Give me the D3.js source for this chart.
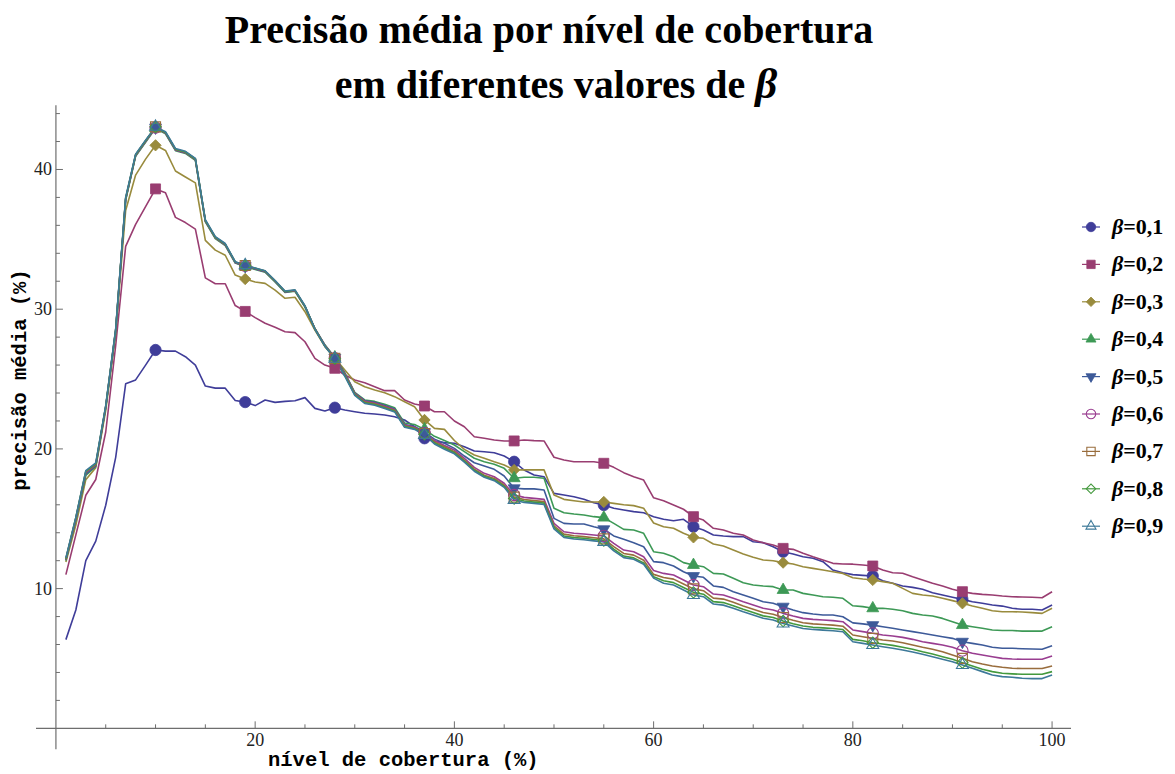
<!DOCTYPE html>
<html>
<head>
<meta charset="utf-8">
<script src="https://cdn.jsdelivr.net/npm/d3@7"></script>
<style>
  body { margin: 0; background: #fff; }
  svg { display: block; }
  .title { font-family: "Liberation Serif", "Times New Roman", serif; font-weight: bold; font-size: 40px; fill: #000; }
  .tick-label { font-family: "Liberation Serif", "Times New Roman", serif; font-size: 18px; fill: #222; }
  .axis-label { font-family: "Liberation Mono", "Courier New", monospace; font-weight: bold; font-size: 20.5px; fill: #000; }
  .legend-text { font-family: "Liberation Serif", "Times New Roman", serif; font-weight: bold; font-size: 22px; fill: #000; }
</style>
</head>
<body>
<div class="vis"></div>
<script>
// nível de cobertura (%) : one point per integer level
var coverage = d3.range(1, 101);

var betaLabels = ["0,1", "0,2", "0,3", "0,4", "0,5", "0,6", "0,7", "0,8", "0,9"];

var precisao01 = [6.35, 8.47, 12.0, 13.4, 15.97, 19.4, 24.66, 24.94, 26.0, 27.08,
  27.0, 27.0, 26.6, 26.0, 24.5, 24.35, 24.35, 23.47, 23.35, 23.1,
  23.5, 23.33, 23.4, 23.45, 23.67, 22.9, 22.71, 22.95, 22.78, 22.66,
  22.55, 22.5, 22.43, 22.3, 22.07, 21.59, 20.76, 20.55, 20.45, 20.4,
  20.16, 19.85, 19.8, 19.73, 19.49, 19.08, 18.49, 18.13, 18.01, 16.82,
  16.7, 16.58, 16.39, 16.15, 15.98, 15.75, 15.63, 15.51, 15.43, 15.15,
  14.96, 14.86, 14.96, 14.43, 14.2, 13.84, 13.77, 13.72, 13.72, 13.36,
  13.29, 13.0, 12.64, 12.48, 12.28, 12.17, 11.93, 11.33, 11.14, 11.0,
  10.95, 10.9, 10.57, 10.38, 10.19, 10.09, 9.95, 9.71, 9.54, 9.38,
  9.23, 9.06, 8.95, 8.83, 8.75, 8.59, 8.52, 8.52, 8.47, 8.83];

var precisao02 = [11.0, 13.85, 16.68, 17.81, 21.21, 27.4, 34.5, 36.07, 37.34, 38.61,
  38.33, 36.57, 36.2, 35.73, 32.24, 31.82, 31.82, 30.26, 29.84, 29.4,
  28.99, 28.7, 28.39, 28.32, 27.67, 26.48, 26.0, 25.77, 25.29, 24.93,
  24.74, 24.45, 24.17, 24.17, 23.5, 23.21, 23.07, 22.66, 22.66, 22.0,
  21.59, 20.87, 20.76, 20.64, 20.57, 20.57, 20.64, 20.59, 20.57, 19.4,
  19.2, 19.08, 19.08, 19.08, 18.97, 18.68, 18.3, 18.01, 17.77, 16.5,
  16.29, 15.98, 15.68, 15.15, 14.91, 14.32, 14.2, 13.96, 13.84, 13.48,
  13.29, 13.12, 12.88, 12.81, 12.53, 12.28, 12.05, 11.81, 11.76, 11.75,
  11.69, 11.62, 11.33, 11.14, 11.1, 10.85, 10.62, 10.38, 10.19, 9.95,
  9.78, 9.66, 9.59, 9.54, 9.47, 9.42, 9.4, 9.38, 9.35, 9.78];

var precisao03 = [11.9, 14.55, 17.8, 18.66, 22.76, 28.3, 37.06, 39.6, 40.74, 41.73,
  41.36, 39.89, 39.46, 39.04, 34.93, 34.23, 33.86, 32.44, 32.16, 31.95,
  31.85, 31.37, 30.78, 30.85, 29.82, 28.51, 27.32, 26.5, 25.65, 24.81,
  24.45, 24.22, 24.02, 23.74, 23.38, 23.02, 22.07, 21.47, 21.4, 20.6,
  19.97, 19.56, 19.33, 19.08, 18.85, 18.49, 18.5, 18.5, 18.5, 16.7,
  16.39, 16.29, 16.2, 16.2, 16.2, 16.1, 16.0, 15.94, 15.75, 14.7,
  14.43, 14.32, 13.96, 13.67, 13.6, 13.19, 13.05, 12.76, 12.48, 12.24,
  12.05, 12.0, 11.86, 11.76, 11.57, 11.45, 11.33, 11.21, 11.09, 10.78,
  10.69, 10.62, 10.5, 10.38, 10.02, 9.66, 9.54, 9.47, 9.31, 9.14,
  8.95, 8.75, 8.59, 8.42, 8.35, 8.35, 8.33, 8.28, 8.23, 8.59];

var precisao04 = [12.0, 14.9, 18.1, 18.75, 22.95, 28.4, 37.8, 40.95, 41.95, 42.95,
  42.55, 41.35, 41.15, 40.65, 36.25, 35.05, 34.55, 33.3, 33.05, 32.85,
  32.65, 31.95, 31.2, 31.28, 30.15, 28.6, 27.45, 26.55, 25.45, 24.05,
  23.5, 23.4, 23.2, 22.95, 21.85, 21.75, 21.4, 20.9, 20.6, 20.28,
  19.8, 19.33, 19.08, 18.9, 18.61, 17.9, 17.97, 17.97, 17.9, 15.75,
  15.43, 15.34, 15.27, 15.15, 15.08, 14.67, 14.24, 14.2, 13.96, 12.64,
  12.53, 12.28, 11.86, 11.69, 11.57, 11.09, 11.05, 10.74, 10.42, 10.26,
  10.19, 10.14, 9.9, 9.9, 9.66, 9.54, 9.42, 9.38, 9.31, 8.77,
  8.71, 8.59, 8.59, 8.52, 8.42, 8.23, 8.11, 8.04, 7.87, 7.63,
  7.39, 7.27, 7.16, 7.04, 7.0, 7.0, 6.96, 6.96, 6.96, 7.27];

var precisao05 = [12.05, 14.95, 18.2, 18.8, 23.0, 28.45, 37.85, 41.0, 42.0, 43.0,
  42.6, 41.4, 41.2, 40.7, 36.3, 35.1, 34.6, 33.33, 33.08, 32.88,
  32.68, 31.98, 31.23, 31.3, 30.18, 28.6, 27.42, 26.52, 25.4, 24.0,
  23.45, 23.33, 23.1, 22.85, 21.75, 21.6, 21.2, 20.7, 20.4, 20.04,
  19.49, 19.01, 18.78, 18.54, 18.06, 17.18, 17.14, 17.14, 17.06, 15.03,
  14.67, 14.63, 14.63, 14.43, 14.25, 13.77, 13.53, 13.29, 13.0, 11.93,
  11.86, 11.62, 11.21, 10.9, 10.81, 10.19, 10.09, 9.78, 9.54, 9.31,
  9.06, 8.95, 8.71, 8.47, 8.28, 8.18, 8.11, 8.11, 7.99, 7.55,
  7.48, 7.39, 7.27, 7.16, 7.04, 6.92, 6.8, 6.68, 6.56, 6.44,
  6.2, 6.08, 5.96, 5.8, 5.73, 5.73, 5.7, 5.68, 5.66, 5.91];

var precisao06 = [12.1, 15.0, 18.3, 18.85, 23.0, 28.5, 37.9, 41.0, 42.0, 43.0,
  42.6, 41.4, 41.2, 40.7, 36.3, 35.1, 34.6, 33.35, 33.1, 32.9,
  32.7, 32.0, 31.25, 31.33, 30.2, 28.6, 27.4, 26.5, 25.35, 23.98,
  23.4, 23.28, 23.05, 22.8, 21.7, 21.55, 21.15, 20.6, 20.25, 19.92,
  19.33, 18.68, 18.25, 18.01, 17.54, 16.7, 16.53, 16.46, 16.39, 14.67,
  14.07, 13.96, 13.91, 13.84, 13.77, 13.24, 12.76, 12.64, 12.28, 11.3,
  11.09, 10.97, 10.62, 10.26, 10.14, 9.61, 9.54, 9.31, 9.06, 8.83,
  8.59, 8.47, 8.23, 8.04, 7.87, 7.8, 7.75, 7.71, 7.63, 7.04,
  6.92, 6.8, 6.68, 6.61, 6.51, 6.37, 6.2, 6.08, 5.96, 5.8,
  5.56, 5.37, 5.25, 5.13, 5.01, 4.96, 4.94, 4.94, 4.94, 5.18];

var precisao07 = [12.1, 15.05, 18.35, 18.9, 23.05, 28.5, 37.9, 41.05, 42.05, 43.05,
  42.65, 41.45, 41.25, 40.75, 36.35, 35.15, 34.65, 33.38, 33.13, 32.93,
  32.73, 32.03, 31.27, 31.35, 30.22, 28.6, 27.38, 26.48, 25.3, 23.93,
  23.35, 23.23, 23.0, 22.75, 21.65, 21.5, 21.1, 20.5, 20.15, 19.8,
  19.2, 18.55, 18.12, 17.88, 17.4, 16.55, 16.38, 16.3, 16.23, 14.5,
  13.9, 13.78, 13.72, 13.64, 13.56, 13.0, 12.52, 12.4, 12.03, 11.02,
  10.8, 10.68, 10.33, 9.98, 9.85, 9.32, 9.25, 9.02, 8.76, 8.53,
  8.29, 8.17, 7.93, 7.73, 7.56, 7.48, 7.43, 7.39, 7.31, 6.68,
  6.56, 6.44, 6.32, 6.25, 6.13, 5.96, 5.8, 5.66, 5.48, 5.25,
  5.01, 4.77, 4.6, 4.46, 4.37, 4.3, 4.28, 4.28, 4.28, 4.46];

var precisao08 = [12.15, 15.1, 18.4, 18.95, 23.05, 28.55, 37.95, 41.05, 42.05, 43.05,
  42.65, 41.45, 41.25, 40.75, 36.35, 35.15, 34.65, 33.38, 33.13, 32.93,
  32.73, 32.03, 31.27, 31.35, 30.22, 28.58, 27.36, 26.46, 25.25, 23.88,
  23.3, 23.18, 22.95, 22.7, 21.6, 21.45, 21.05, 20.42, 20.06, 19.72,
  19.12, 18.47, 18.04, 17.8, 17.32, 16.45, 16.27, 16.19, 16.12, 14.38,
  13.77, 13.65, 13.6, 13.52, 13.44, 12.82, 12.33, 12.2, 11.84, 10.85,
  10.56, 10.43, 10.08, 9.73, 9.6, 9.07, 9.0, 8.77, 8.52, 8.29,
  8.05, 7.93, 7.68, 7.49, 7.32, 7.24, 7.19, 7.15, 7.07, 6.37,
  6.27, 6.13, 6.04, 5.94, 5.8, 5.66, 5.48, 5.32, 5.13, 4.94,
  4.7, 4.46, 4.23, 4.06, 3.94, 3.9, 3.87, 3.87, 3.87, 4.06];

var precisao09 = [12.2, 15.1, 18.45, 19.0, 23.1, 28.6, 38.0, 41.1, 42.1, 43.05,
  42.7, 41.5, 41.3, 40.8, 36.4, 35.2, 34.7, 33.4, 33.15, 32.95,
  32.75, 32.05, 31.3, 31.38, 30.25, 28.58, 27.35, 26.45, 25.2, 23.83,
  23.25, 23.13, 22.9, 22.65, 21.55, 21.4, 21.0, 20.35, 19.98, 19.65,
  19.05, 18.4, 17.97, 17.73, 17.25, 16.35, 16.17, 16.1, 16.02, 14.28,
  13.67, 13.55, 13.5, 13.42, 13.34, 12.7, 12.22, 12.1, 11.74, 10.75,
  10.38, 10.26, 9.9, 9.54, 9.42, 8.9, 8.82, 8.6, 8.34, 8.11,
  7.88, 7.75, 7.5, 7.32, 7.15, 7.08, 7.03, 6.99, 6.91, 6.2,
  6.08, 5.96, 5.84, 5.73, 5.61, 5.46, 5.3, 5.13, 4.94, 4.77,
  4.53, 4.3, 4.06, 3.82, 3.7, 3.66, 3.58, 3.56, 3.56, 3.82];

var xTickValues = [20, 40, 60, 80, 100];
var yTickValues = [10, 20, 30, 40];

var chart = {

  hold: {},
  elements: {},

  setUp: function(){
    chart.hold.width = 1175;
    chart.hold.height = 774;
    chart.hold.series = [precisao01, precisao02, precisao03, precisao04, precisao05,
      precisao06, precisao07, precisao08, precisao09];
    chart.hold.colors = ["#3f3d99", "#993d71", "#998b3d", "#3d9956", "#3d5a99",
      "#993d90", "#996d3d", "#43993d", "#3d7999"];
    chart.hold.shapes = ["circle", "square", "diamond", "up", "down",
      "circle", "square", "diamond", "up"];
    chart.hold.filled = [true, true, true, true, true, false, false, false, false];

    chart.hold.x = d3.scaleLinear().domain([-2, 101.9]).range([36, 1071]);
    chart.hold.y = d3.scaleLinear().domain([-1.5, 44.6]).range([749.3, 105.2]);

    chart.elements.svg = d3.select(".vis")
      .append("svg")
        .attr("width", chart.hold.width)
        .attr("height", chart.hold.height);

    chart.drawTitle();
    chart.drawAxes();
    chart.drawSeries();
    chart.drawLegend();
  },

  markerPath: function(shape, scale){
    if(shape == "circle") return d3.symbol().type(d3.symbolCircle).size(100 * scale)();
    if(shape == "square") return d3.symbol().type(d3.symbolSquare).size(100 * scale)();
    if(shape == "diamond") return d3.symbol().type(d3.symbolSquare).size(64 * scale)();
    return d3.symbol().type(d3.symbolTriangle).size(62 * scale)();
  },

  markerRotation: function(shape){
    if(shape == "diamond") return 45;
    if(shape == "down") return 180;
    return 0;
  },

  addMarker: function(g, i, px, py, scale){
    var shape = chart.hold.shapes[i];
    g.append("path")
      .attr("d", chart.markerPath(shape, scale || 1))
      .attr("transform", "translate(" + px + "," + py + ") rotate(" + chart.markerRotation(shape) + ")")
      .attr("fill", chart.hold.filled[i] ? chart.hold.colors[i] : "none")
      .attr("stroke", chart.hold.colors[i])
      .attr("stroke-width", chart.hold.filled[i] ? 0.8 : 1.1);
  },

  drawTitle: function(){
    var svg = chart.elements.svg;
    svg.append("text")
      .attr("class", "title")
      .attr("x", 549).attr("y", 43)
      .attr("text-anchor", "middle")
      .text("Precisão média por nível de cobertura");
    var t2 = svg.append("text")
      .attr("class", "title")
      .attr("x", 556).attr("y", 98)
      .attr("text-anchor", "middle");
    t2.append("tspan").text("em diferentes valores de ");
    t2.append("tspan").attr("font-style", "italic").attr("font-size", "43px").text("β");
  },

  drawAxes: function(){
    var svg = chart.elements.svg, x = chart.hold.x, y = chart.hold.y;
    var g = svg.append("g").attr("class", "axes");
    var axisColor = "#6e6e6e";

    // minor ticks every 5 on x, every 2 on y
    var xMinor = d3.range(5, 101, 5);
    var yMinor = d3.range(2, 45, 2);

    g.selectAll(".xminor").data(xMinor).enter().append("line")
      .attr("x1", function(d){ return x(d); }).attr("x2", function(d){ return x(d); })
      .attr("y1", y(0)).attr("y2", function(d){ return xTickValues.indexOf(d) >= 0 ? y(0) - 7 : y(0) - 4; })
      .attr("stroke", axisColor).attr("stroke-width", 1);

    g.selectAll(".yminor").data(yMinor).enter().append("line")
      .attr("y1", function(d){ return y(d); }).attr("y2", function(d){ return y(d); })
      .attr("x1", x(0)).attr("x2", function(d){ return yTickValues.indexOf(d) >= 0 ? x(0) + 7 : x(0) + 4; })
      .attr("stroke", axisColor).attr("stroke-width", 1);

    g.append("line")
      .attr("x1", x.range()[0]).attr("x2", x.range()[1])
      .attr("y1", y(0)).attr("y2", y(0))
      .attr("stroke", axisColor).attr("stroke-width", 1.2);
    g.append("line")
      .attr("x1", x(0)).attr("x2", x(0))
      .attr("y1", y.range()[0]).attr("y2", y.range()[1])
      .attr("stroke", axisColor).attr("stroke-width", 1.2);

    g.selectAll(".xlab").data(xTickValues).enter().append("text")
      .attr("class", "tick-label")
      .attr("x", function(d){ return x(d); })
      .attr("y", y(0) + 18)
      .attr("text-anchor", "middle")
      .text(function(d){ return d; });

    g.selectAll(".ylab").data(yTickValues).enter().append("text")
      .attr("class", "tick-label")
      .attr("x", x(0) - 4)
      .attr("y", function(d){ return y(d) + 6; })
      .attr("text-anchor", "end")
      .text(function(d){ return d; });

    svg.append("text")
      .attr("class", "axis-label")
      .attr("x", 268).attr("y", 766)
      .text("nível de cobertura (%)");

    svg.append("text")
      .attr("class", "axis-label")
      .attr("transform", "translate(26,380) rotate(-90)")
      .attr("text-anchor", "middle")
      .text("precisão média (%)");
  },

  drawSeries: function(){
    var svg = chart.elements.svg, x = chart.hold.x, y = chart.hold.y;
    var line = d3.line()
      .x(function(d, i){ return x(coverage[i]); })
      .y(function(d){ return y(d); });

    var gLines = svg.append("g").attr("class", "lines");
    chart.hold.series.forEach(function(s, i){
      gLines.append("path")
        .attr("d", line(s))
        .attr("fill", "none")
        .attr("stroke", chart.hold.colors[i])
        .attr("stroke-width", 1.6)
        .attr("stroke-linejoin", "round");
    });

    // markers on every 9th level: 10, 19, ..., 91
    var gMarks = svg.append("g").attr("class", "markers");
    chart.hold.series.forEach(function(s, i){
      for(var k = 9; k <= 90; k += 9){
        chart.addMarker(gMarks, i, x(coverage[k]), y(s[k]));
      }
    });
  },

  drawLegend: function(){
    var svg = chart.elements.svg;
    var g = svg.append("g").attr("class", "legend");
    betaLabels.forEach(function(lab, i){
      var ry = 227 + i * 37.4;
      g.append("line")
        .attr("x1", 1082).attr("x2", 1100)
        .attr("y1", ry).attr("y2", ry)
        .attr("stroke", chart.hold.colors[i]).attr("stroke-width", 1.2);
      chart.addMarker(g, i, 1091, ry, 0.7);
      var t = g.append("text")
        .attr("class", "legend-text")
        .attr("x", 1112).attr("y", ry + 7);
      t.append("tspan").attr("font-style", "italic").text("β");
      t.append("tspan").text("=" + lab);
    });
  }

};

chart.setUp();
</script>
</body>
</html>
